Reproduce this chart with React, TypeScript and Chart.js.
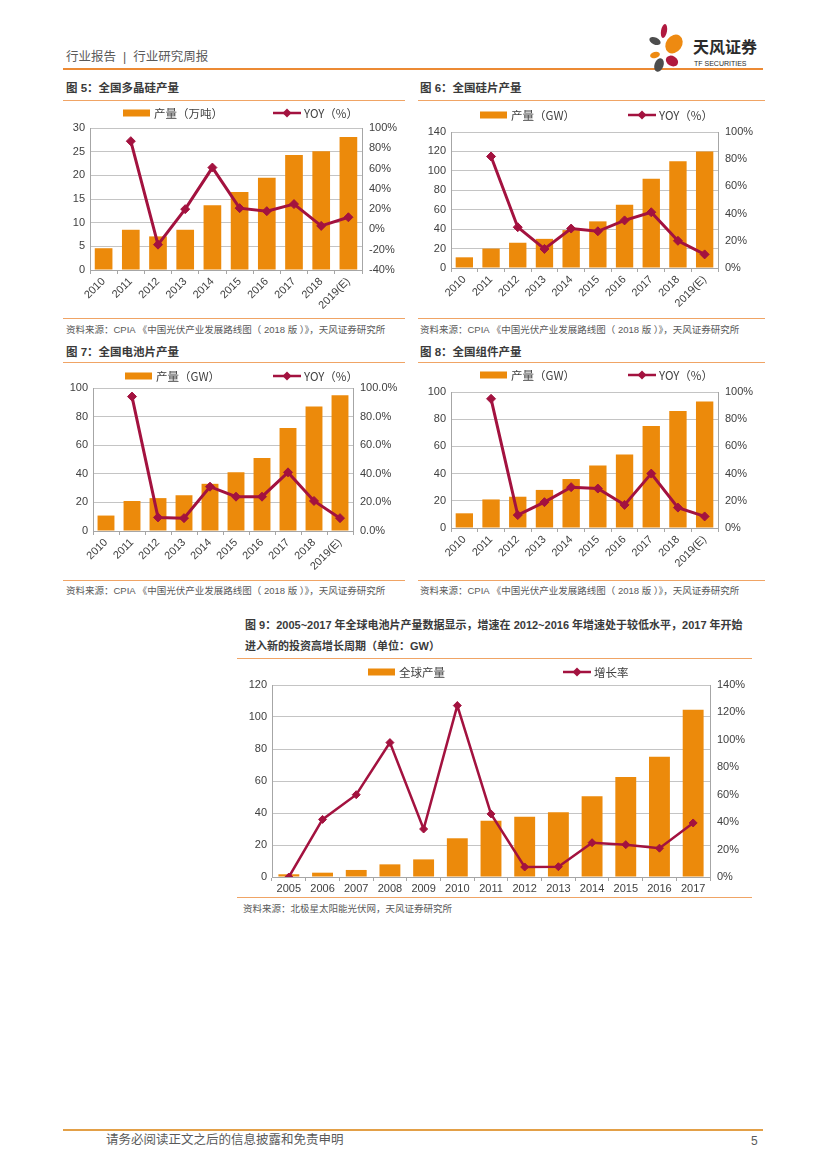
import React, { useEffect, useRef } from "react";
import { Chart, registerables } from "chart.js";

Chart.register(...registerables);

// ---------------- data ----------------
const YEARS_10 = ["2010", "2011", "2012", "2013", "2014", "2015", "2016", "2017", "2018", "2019(E)"];

const POLY_OUTPUT = [4.6, 8.5, 7.1, 8.5, 13.7, 16.5, 19.5, 24.3, 25.1, 28.1];
const POLY_YOY = [null, 87, -15, 20, 61, 21, 18, 25, 3.5, 12];

const WAFER_OUTPUT = [11, 20, 26, 30, 39, 48, 65, 92, 110, 120];
const WAFER_YOY = [null, 82, 30, 14, 29, 27, 35, 41, 20, 10];

const CELL_OUTPUT = [10.8, 21, 23, 25, 33, 41, 51, 72, 87, 95];
const CELL_YOY = [null, 94, 9.5, 9, 31, 24, 24, 41, 21, 9];

const MODULE_OUTPUT = [10.8, 21, 23, 28, 36, 46, 54, 75, 86, 93];
const MODULE_YOY = [null, 95, 9.5, 19, 30, 29, 17, 40, 15, 8.5];

const YEARS_13 = ["2005", "2006", "2007", "2008", "2009", "2010", "2011", "2012", "2013", "2014", "2015", "2016", "2017"];
const GLOBAL_OUTPUT = [1.7, 2.7, 4.4, 7.9, 11, 24.2, 35.2, 37.7, 40.4, 50.4, 62.5, 75.2, 104.6];
const GLOBAL_GROWTH = [0, 42, 60, 98, 35, 125, 46, 7.3, 7.5, 25, 23.6, 21, 39.4];

// ---------------- styles ----------------
const FONT = '"Liberation Sans", Arial, "Noto Sans CJK SC", sans-serif';
const CJK = '"Noto Sans CJK SC", "Liberation Sans", sans-serif';
const BAR = "#EC8A0B";
const LINE = "#A3123F";
const GRID = "#C4C4C4";
const AXIS = "#A6A6A6";
const TEXT = "#404040";
const RULE = "#F0A465";

const legendPlugin = {
  id: "comboLegend",
  afterDraw(chart: any, _args: any, opts: any) {
    if (!opts || !opts.xs) return;
    const ctx = chart.ctx as CanvasRenderingContext2D;
    ctx.save();
    ctx.font = `${opts.fontSize || 11}px ${CJK}`;
    ctx.textBaseline = "middle";
    ctx.textAlign = "left";
    chart.data.datasets.forEach((ds: any, i: number) => {
      const x = opts.xs[i];
      const y = opts.y;
      if (ds.type === "bar") {
        ctx.fillStyle = ds.backgroundColor;
        ctx.fillRect(x, y - 3.5, 27, 7);
      } else {
        ctx.strokeStyle = ds.borderColor;
        ctx.lineWidth = 2.5;
        ctx.beginPath();
        ctx.moveTo(x, y);
        ctx.lineTo(x + 28, y);
        ctx.stroke();
        ctx.fillStyle = ds.borderColor;
        ctx.beginPath();
        ctx.moveTo(x + 14, y - 4.5);
        ctx.lineTo(x + 18.5, y);
        ctx.lineTo(x + 14, y + 4.5);
        ctx.lineTo(x + 9.5, y);
        ctx.closePath();
        ctx.fill();
      }
      ctx.fillStyle = TEXT;
      ctx.fillText(ds.label, x + 31, y + 0.5);
    });
    ctx.restore();
  },
};

type ComboProps = {
  labels: string[];
  bars: (number | null)[];
  line: (number | null)[];
  barLabel: string;
  lineLabel: string;
  left: number;
  top: number;
  width: number;
  height: number;
  leftW: number;
  rightW: number;
  padTop: number;
  xH: number;
  yMax: number;
  yStep: number;
  rMin: number;
  rMax: number;
  rStep: number;
  rDecimals: number;
  rotation: number;
  legendY: number;
  legendXs: number[];
  barPct: number;
  lineW: number;
  pointR: number;
};

function ComboChart(p: ComboProps) {
  const ref = useRef<HTMLCanvasElement>(null);
  useEffect(() => {
    const tickFont = { family: FONT, size: 11 };
    const chart = new Chart(ref.current as HTMLCanvasElement, {
      type: "bar",
      data: {
        labels: p.labels,
        datasets: [
          {
            type: "bar",
            label: p.barLabel,
            data: p.bars,
            backgroundColor: BAR,
            yAxisID: "y",
            order: 2,
            barPercentage: p.barPct,
            categoryPercentage: 1,
          } as any,
          {
            type: "line",
            label: p.lineLabel,
            data: p.line,
            borderColor: LINE,
            backgroundColor: LINE,
            borderWidth: p.lineW,
            pointStyle: "rectRot",
            pointRadius: p.pointR,
            pointBackgroundColor: LINE,
            pointBorderColor: LINE,
            pointBorderWidth: 1,
            yAxisID: "y1",
            order: 1,
            tension: 0,
          } as any,
        ],
      },
      options: {
        animation: false,
        responsive: false,
        events: [],
        layout: { padding: { top: p.padTop, left: 0, right: 0, bottom: 0 } },
        plugins: {
          legend: { display: false },
          tooltip: { enabled: false },
          comboLegend: { xs: p.legendXs, y: p.legendY, fontSize: 11.5 },
        } as any,
        scales: {
          x: {
            grid: { display: true, drawOnChartArea: false, drawTicks: true, tickLength: 4, color: AXIS },
            border: { color: AXIS },
            ticks: {
              font: tickFont,
              color: TEXT,
              minRotation: p.rotation,
              maxRotation: p.rotation,
              padding: 1,
              autoSkip: false,
            },
            afterFit: (s: any) => {
              s.height = p.xH;
            },
          },
          y: {
            position: "left",
            min: 0,
            max: p.yMax,
            ticks: { stepSize: p.yStep, font: tickFont, color: TEXT, padding: 5 },
            grid: { color: GRID, drawTicks: false },
            border: { color: AXIS },
            afterFit: (s: any) => {
              s.width = p.leftW;
            },
          },
          y1: {
            position: "right",
            min: p.rMin,
            max: p.rMax,
            ticks: {
              stepSize: p.rStep,
              font: tickFont,
              color: TEXT,
              padding: 7,
              callback: (v: any) => Number(v).toFixed(p.rDecimals) + "%",
            },
            grid: { display: false, drawTicks: false },
            border: { color: AXIS },
            afterFit: (s: any) => {
              s.width = p.rightW;
            },
          },
        },
      },
      plugins: [legendPlugin as any],
    });
    return () => chart.destroy();
  }, []);
  return (
    <canvas
      ref={ref}
      width={p.width}
      height={p.height}
      style={{ position: "absolute", left: p.left, top: p.top, width: p.width, height: p.height }}
    />
  );
}

function Txt(props: {
  x: number;
  y: number;
  size: number;
  color?: string;
  bold?: boolean;
  children: React.ReactNode;
}) {
  return (
    <div
      style={{
        position: "absolute",
        left: props.x,
        top: props.y - props.size * 0.7,
        fontSize: props.size,
        lineHeight: `${props.size * 1.4}px`,
        fontFamily: FONT,
        fontWeight: props.bold ? 700 : 400,
        color: props.color || TEXT,
        whiteSpace: "nowrap",
      }}
    >
      {props.children}
    </div>
  );
}

function Rule(props: { x: number; y: number; w: number; h?: number; color?: string }) {
  return (
    <div
      style={{
        position: "absolute",
        left: props.x,
        top: props.y,
        width: props.w,
        height: props.h || 1,
        background: props.color || RULE,
      }}
    />
  );
}

function Logo() {
  return (
    <svg
      width={120}
      height={52}
      viewBox="0 0 120 52"
      style={{ position: "absolute", left: 646, top: 22 }}
    >
      <ellipse cx={18} cy={9} rx={3} ry={7} fill="#B0193F" transform="rotate(10 18 9)" />
      <ellipse cx={9} cy={19} rx={6} ry={3.5} fill="#4D4D4D" transform="rotate(25 9 19)" />
      <ellipse cx={28} cy={22} rx={8} ry={10} fill="#EE8A11" transform="rotate(35 28 22)" />
      <ellipse cx={9} cy={33} rx={5} ry={3} fill="#EE8A11" transform="rotate(-15 9 33)" />
      <ellipse cx={26} cy={39} rx={6.5} ry={5} fill="#B0193F" transform="rotate(30 26 39)" />
      <ellipse cx={13} cy={43} rx={4.5} ry={7} fill="#4D4D4D" transform="rotate(20 13 43)" />
      <text x={47} y={31} fontFamily={CJK} fontWeight={700} fontSize={16} fill="#2B2B2B">
        天风证券
      </text>
      <text x={48} y={44} fontFamily={FONT} fontSize={7} fill="#2B2B2B">
        TF SECURITIES
      </text>
    </svg>
  );
}

const SOURCE_CPIA = "资料来源：CPIA  《中国光伏产业发展路线图（ 2018 版 ）》，天风证券研究所";

export default function App() {
  return (
    <div
      style={{
        position: "absolute",
        left: 0,
        top: 0,
        width: 827,
        height: 1169,
        background: "#ffffff",
        overflow: "hidden",
        fontFamily: FONT,
      }}
    >
      {/* header */}
      <Txt x={66} y={58} size={12.5} color="#5A5A5A">
        <span>行业报告</span>
        <span style={{ margin: "0 7px" }}>|</span>
        <span>行业研究周报</span>
      </Txt>
      <Rule x={63} y={68} w={700} h={2} color="#EC8A34" />
      <Logo />

      {/* Figure 5 */}
      <Txt x={66} y={88} size={11.5} bold color="#3A3A3A">
        图 5：全国多晶硅产量
      </Txt>
      <Rule x={63} y={100} w={342} />
      <ComboChart
        labels={YEARS_10}
        bars={POLY_OUTPUT}
        line={POLY_YOY}
        barLabel="产量（万吨）"
        lineLabel="YOY（%）"
        left={62}
        top={103}
        width={343}
        height={213}
        leftW={28}
        rightW={43}
        padTop={25}
        xH={46}
        yMax={30}
        yStep={5}
        rMin={-40}
        rMax={100}
        rStep={20}
        rDecimals={0}
        rotation={45}
        legendY={10}
        legendXs={[61, 211]}
        barPct={0.65}
        lineW={3}
        pointR={4.5}
      />
      <Rule x={63} y={318} w={342} />
      <Txt x={66} y={330} size={9.5} color="#595959">
        {SOURCE_CPIA}
      </Txt>

      {/* Figure 6 */}
      <Txt x={420} y={88} size={11.5} bold color="#3A3A3A">
        图 6：全国硅片产量
      </Txt>
      <Rule x={418} y={100} w={347} />
      <ComboChart
        labels={YEARS_10}
        bars={WAFER_OUTPUT}
        line={WAFER_YOY}
        barLabel="产量（GW）"
        lineLabel="YOY（%）"
        left={420}
        top={105}
        width={345}
        height={211}
        leftW={31}
        rightW={47}
        padTop={27}
        xH={48}
        yMax={140}
        yStep={20}
        rMin={0}
        rMax={100}
        rStep={20}
        rDecimals={0}
        rotation={45}
        legendY={10}
        legendXs={[60, 208]}
        barPct={0.65}
        lineW={3}
        pointR={4.5}
      />
      <Rule x={418} y={318} w={347} />
      <Txt x={420} y={330} size={9.5} color="#595959">
        {SOURCE_CPIA}
      </Txt>

      {/* Figure 7 */}
      <Txt x={66} y={352} size={11.5} bold color="#3A3A3A">
        图 7：全国电池片产量
      </Txt>
      <Rule x={63} y={362} w={342} />
      <ComboChart
        labels={YEARS_10}
        bars={CELL_OUTPUT}
        line={CELL_YOY}
        barLabel="产量（GW）"
        lineLabel="YOY（%）"
        left={62}
        top={365}
        width={343}
        height={213}
        leftW={31}
        rightW={52}
        padTop={23}
        xH={47}
        yMax={100}
        yStep={20}
        rMin={0}
        rMax={100}
        rStep={20}
        rDecimals={1}
        rotation={45}
        legendY={11}
        legendXs={[63, 211]}
        barPct={0.65}
        lineW={3}
        pointR={4.5}
      />
      <Rule x={63} y={580} w={342} />
      <Txt x={66} y={591} size={9.5} color="#595959">
        {SOURCE_CPIA}
      </Txt>

      {/* Figure 8 */}
      <Txt x={420} y={352} size={11.5} bold color="#3A3A3A">
        图 8：全国组件产量
      </Txt>
      <Rule x={418} y={362} w={347} />
      <ComboChart
        labels={YEARS_10}
        bars={MODULE_OUTPUT}
        line={MODULE_YOY}
        barLabel="产量（GW）"
        lineLabel="YOY（%）"
        left={420}
        top={365}
        width={345}
        height={212}
        leftW={31}
        rightW={47}
        padTop={27}
        xH={49}
        yMax={100}
        yStep={20}
        rMin={0}
        rMax={100}
        rStep={20}
        rDecimals={0}
        rotation={45}
        legendY={10}
        legendXs={[60, 208]}
        barPct={0.65}
        lineW={3}
        pointR={4.5}
      />
      <Rule x={418} y={580} w={347} />
      <Txt x={420} y={591} size={9.5} color="#595959">
        {SOURCE_CPIA}
      </Txt>

      {/* Figure 9 */}
      <Txt x={245} y={626} size={11} bold color="#3A3A3A">
        图 9：2005~2017 年全球电池片产量数据显示，增速在 2012~2016 年增速处于较低水平，2017 年开始
      </Txt>
      <Txt x={245} y={647} size={11} bold color="#3A3A3A">
        进入新的投资高增长周期（单位：GW）
      </Txt>
      <Rule x={237} y={658} w={515} />
      <ComboChart
        labels={YEARS_13}
        bars={GLOBAL_OUTPUT}
        line={GLOBAL_GROWTH}
        barLabel="全球产量"
        lineLabel="增长率"
        left={240}
        top={660}
        width={515}
        height={236}
        leftW={32}
        rightW={45}
        padTop={25}
        xH={19}
        yMax={120}
        yStep={20}
        rMin={0}
        rMax={140}
        rStep={20}
        rDecimals={0}
        rotation={0}
        legendY={12}
        legendXs={[128, 323]}
        barPct={0.62}
        lineW={2.5}
        pointR={4}
      />
      <Rule x={237} y={897} w={515} />
      <Txt x={243} y={909} size={9.5} color="#595959">
        资料来源：北极星太阳能光伏网，天风证券研究所
      </Txt>

      {/* footer */}
      <Rule x={63} y={1129} w={700} h={2} color="#E3A047" />
      <Txt x={106} y={1141} size={12.5} color="#5A5A5A">
        请务必阅读正文之后的信息披露和免责申明
      </Txt>
      <Txt x={751} y={1141} size={12} color="#5A5A5A">
        5
      </Txt>
    </div>
  );
}
